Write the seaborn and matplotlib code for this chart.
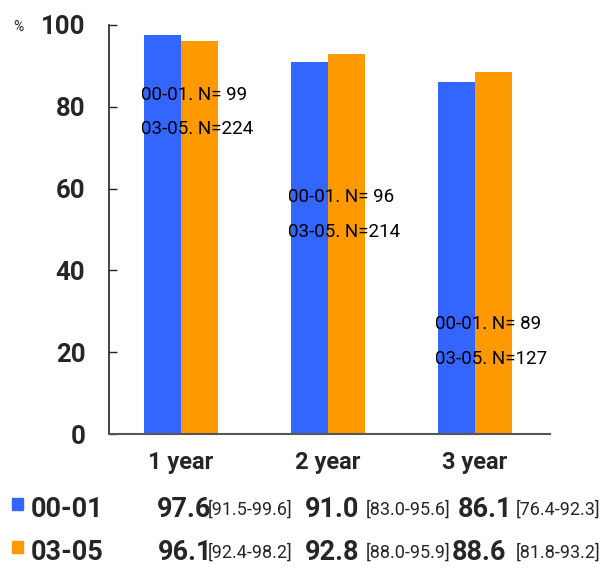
import matplotlib
matplotlib.use("Agg")
import matplotlib.pyplot as plt
import seaborn as sns
import pandas as pd

# --- data ---
years = ["1 year", "2 year", "3 year"]
cohorts = ["00-01", "03-05"]
rate_0001 = [97.6, 91.0, 86.1]
rate_0305 = [96.1, 92.8, 88.6]
ci_0001 = ["[91.5-99.6]", "[83.0-95.6]", "[76.4-92.3]"]
ci_0305 = ["[92.4-98.2]", "[88.0-95.9]", "[81.8-93.2]"]
n_0001 = [99, 96, 89]
n_0305 = [224, 214, 127]
yticks = [0, 20, 40, 60, 80, 100]

colors = {"00-01": "#3366FF", "03-05": "#FF9900"}

df = pd.DataFrame({
    "year": years * 2,
    "cohort": [cohorts[0]] * 3 + [cohorts[1]] * 3,
    "rate": rate_0001 + rate_0305,
})

sns.set_style("white")
plt.rcParams["font.family"] = ["Roboto", "DejaVu Sans"]

W, H = 603, 568
fig = plt.figure(figsize=(W / 100, H / 100), dpi=100)
fig.patch.set_facecolor("white")


def fx(x):
    return x / W


def fy(y):
    return 1 - y / H


ax = fig.add_axes([fx(109), fy(434), fx(550) - fx(109), fy(25) - fy(434)])
sns.barplot(data=df, x="year", y="rate", hue="cohort", palette=colors,
            saturation=1, width=0.5, gap=0, edgecolor="none", linewidth=0,
            legend=False, ax=ax)

ax.set_xlim(-0.49, 2.51)
ax.set_ylim(0, 100)
ax.set_yticks(yticks)
ax.set_yticklabels([str(t) for t in yticks], fontsize=18.5, fontweight="bold")
ax.tick_params(axis="y", direction="in", length=6, width=1, color="#222222", pad=17, left=True)
ax.tick_params(axis="x", length=0, pad=12, labelsize=17)
for lab in ax.get_xticklabels():
    lab.set_fontweight("bold")
ax.set_xlabel("")
ax.set_ylabel("")
ax.set_facecolor("none")
for side in ["top", "right"]:
    ax.spines[side].set_visible(False)
ax.spines["left"].set_color("#222222")
ax.spines["bottom"].set_color("#555555")
ax.spines["left"].set_linewidth(1.2)
ax.spines["bottom"].set_linewidth(1.5)

# sample size notes inside each group
note_y = [(83, 74.5), (58, 49.5), (27, 18.3)]
for i in range(3):
    ax.text(i - 0.275, note_y[i][0], f"00-01. N={n_0001[i]:>3}", fontsize=13.5,
            ha="left", va="center", color="black")
    ax.text(i - 0.275, note_y[i][1], f"03-05. N={n_0305[i]:>3}", fontsize=13.5,
            ha="left", va="center", color="black")

fig.text(fx(13), fy(27), "%", fontsize=10, ha="left", va="center")

# summary table below the chart
rows = [(cohorts[0], rate_0001, ci_0001, 517, [157, 305, 458], [208, 366, 516]),
        (cohorts[1], rate_0305, ci_0305, 560, [158, 305, 452], [208, 366, 516])]
for name, vals, cis, base, vx, cx in rows:
    fig.patches.append(plt.Rectangle((fx(12), fy(base - 7)), fx(11), fy(0) - fy(12),
                                     transform=fig.transFigure, color=colors[name]))
    fig.text(fx(31), fy(base), name, fontsize=19.5, fontweight="bold",
             ha="left", va="baseline")
    for v, c, x1, x2 in zip(vals, cis, vx, cx):
        fig.text(fx(x1), fy(base), f"{v:.1f}", fontsize=19.5, fontweight="bold",
                 ha="left", va="baseline")
        fig.text(fx(x2), fy(base - 2), c, fontsize=13, ha="left", va="baseline")

fig.savefig("out.png", dpi=100, facecolor="white")
